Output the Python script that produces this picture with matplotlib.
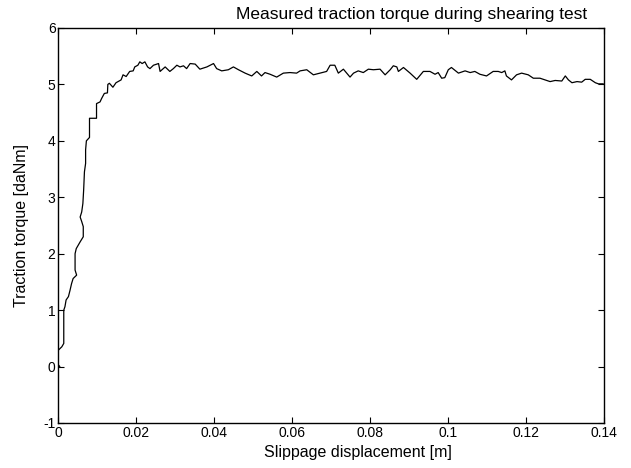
import matplotlib
matplotlib.use("Agg")
import matplotlib.pyplot as plt

# slippage displacement [m]
slip = [0.0, 0.0004, 0.0, 0.0, 0.0009, 0.0014, 0.0014, 0.0017, 0.0020, 0.0026,
        0.0030, 0.0034, 0.0038, 0.0047, 0.0043, 0.0043, 0.0046, 0.0056, 0.0064, 0.0064,
        0.0060, 0.0056, 0.0060, 0.0063, 0.0065, 0.0067, 0.0070, 0.0070, 0.0072, 0.0080,
        0.0080, 0.0098, 0.0098, 0.0107, 0.0111, 0.0118, 0.0126, 0.0127, 0.0131, 0.0140,
        0.0148, 0.0161, 0.0166, 0.0174, 0.0183, 0.0192, 0.0196, 0.0204, 0.0209, 0.0215,
        0.0222, 0.0229, 0.0235, 0.0244, 0.0257, 0.0261, 0.0274, 0.0286, 0.0295, 0.0304,
        0.0312, 0.0321, 0.0329, 0.0338, 0.0351, 0.0363, 0.0381, 0.0398, 0.0406, 0.0419,
        0.0436, 0.0449, 0.0462, 0.0479, 0.0496, 0.0509, 0.0521, 0.0530, 0.0543, 0.0560,
        0.0577, 0.0594, 0.0611, 0.0620, 0.0637, 0.0654, 0.0671, 0.0688, 0.0697, 0.0709,
        0.0718, 0.0731, 0.0748, 0.0757, 0.0769, 0.0782, 0.0795, 0.0808, 0.0825, 0.0838,
        0.0851, 0.0859, 0.0868, 0.0872, 0.0885, 0.0902, 0.0919, 0.0936, 0.0953, 0.0966,
        0.0974, 0.0983, 0.0991, 0.1000, 0.1008, 0.1026, 0.1043, 0.1056, 0.1068, 0.1081,
        0.1098, 0.1115, 0.1128, 0.1137, 0.1145, 0.1149, 0.1162, 0.1175, 0.1188, 0.1205,
        0.1218, 0.1235, 0.1248, 0.1261, 0.1274, 0.1291, 0.1300, 0.1308, 0.1317, 0.1330,
        0.1342, 0.1351, 0.1364, 0.1377, 0.1385, 0.1397]

# traction torque [daNm]
torque = [0.0, 0.0, 0.03, 0.29, 0.35, 0.41, 1.00, 1.06, 1.18, 1.24,
          1.35, 1.47, 1.56, 1.62, 1.71, 2.00, 2.09, 2.21, 2.30, 2.48,
          2.57, 2.65, 2.74, 2.89, 3.13, 3.45, 3.60, 3.84, 4.00, 4.06,
          4.40, 4.40, 4.66, 4.69, 4.75, 4.84, 4.85, 5.00, 5.02, 4.95,
          5.03, 5.08, 5.17, 5.14, 5.23, 5.24, 5.31, 5.34, 5.40, 5.37,
          5.40, 5.31, 5.28, 5.34, 5.37, 5.23, 5.31, 5.23, 5.28, 5.34,
          5.31, 5.33, 5.28, 5.37, 5.36, 5.27, 5.31, 5.37, 5.28, 5.24,
          5.26, 5.31, 5.26, 5.20, 5.15, 5.23, 5.15, 5.21, 5.18, 5.13,
          5.20, 5.21, 5.20, 5.24, 5.26, 5.17, 5.20, 5.23, 5.34, 5.34,
          5.20, 5.27, 5.13, 5.20, 5.24, 5.21, 5.27, 5.26, 5.27, 5.17,
          5.26, 5.33, 5.31, 5.23, 5.30, 5.20, 5.09, 5.23, 5.23, 5.18,
          5.21, 5.11, 5.12, 5.26, 5.30, 5.20, 5.24, 5.21, 5.23, 5.18,
          5.15, 5.23, 5.23, 5.21, 5.24, 5.15, 5.08, 5.17, 5.20, 5.17,
          5.11, 5.11, 5.08, 5.05, 5.07, 5.06, 5.15, 5.08, 5.03, 5.05,
          5.04, 5.09, 5.09, 5.03, 5.01, 5.01]

x_ticks = [0, 0.02, 0.04, 0.06, 0.08, 0.1, 0.12, 0.14]
x_tick_labels = ["0", "0.02", "0.04", "0.06", "0.08", "0.1", "0.12", "0.14"]
y_ticks = [-1, 0, 1, 2, 3, 4, 5, 6]

plt.rcParams["font.family"] = ["Liberation Sans", "DejaVu Sans"]
plt.rcParams["axes.unicode_minus"] = False

fig = plt.figure(figsize=(6.31, 4.68), dpi=100)
ax = fig.add_axes([0.0924, 0.0962, 0.8653, 0.8440])

ax.plot(slip, torque, color="black", linewidth=0.9)

ax.set_xlim(0, 0.14)
ax.set_ylim(-1, 6)
ax.set_xticks(x_ticks)
ax.set_xticklabels(x_tick_labels)
ax.set_yticks(y_ticks)
ax.tick_params(direction="in", length=4, width=0.8, top=True, right=True,
               labelsize=10, pad=2)
for s in ax.spines.values():
    s.set_linewidth(1.0)

ax.set_xlabel("Slippage displacement [m]", fontsize=11.5)
ax.xaxis.set_label_coords(0.548, -0.055)
ax.set_ylabel("Traction torque [daNm]", fontsize=11.5, labelpad=10)
fig.text(0.652, 0.97, "Measured traction torque during shearing test",
         ha="center", va="center", fontsize=12.5)

fig.savefig("out.png", dpi=100)
